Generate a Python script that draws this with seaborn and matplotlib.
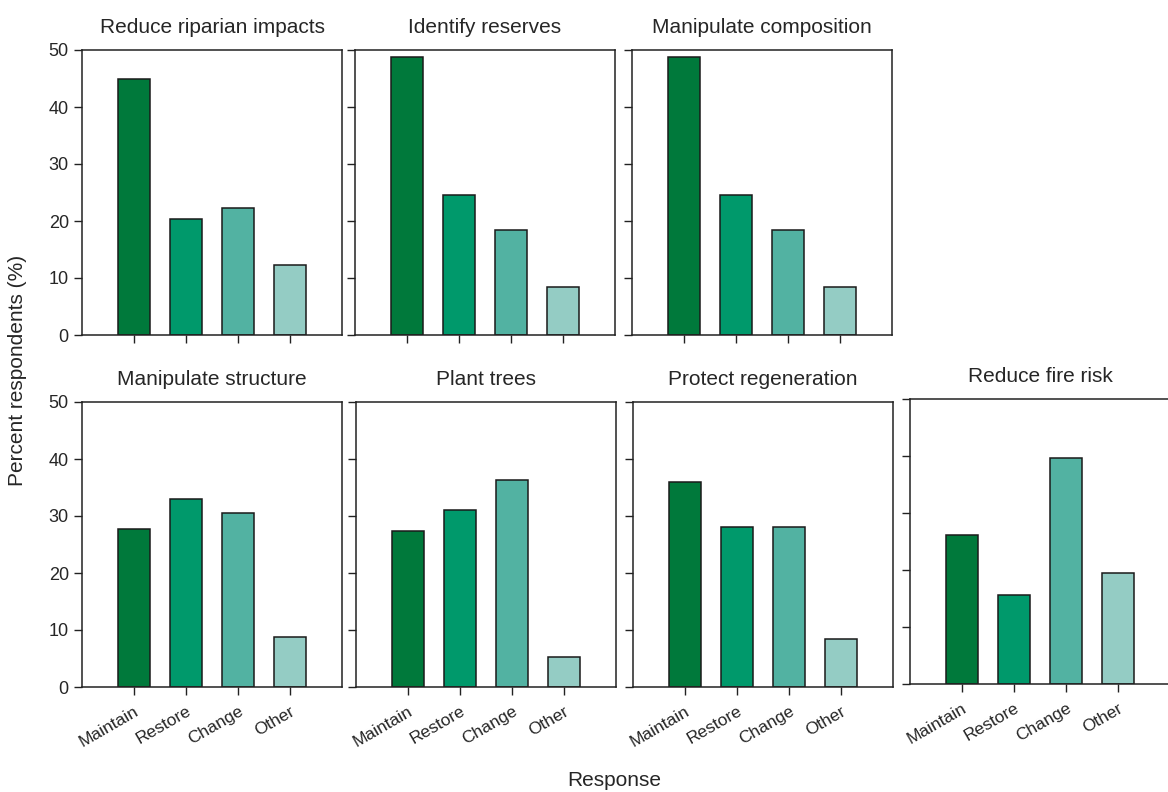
import matplotlib
matplotlib.use("Agg")
import matplotlib.pyplot as plt
import seaborn as sns
import pandas as pd

sns.set_style("white")
plt.rcParams['font.family'] = ['Liberation Sans', 'DejaVu Sans']

responses = ["Maintain", "Restore", "Change", "Other"]
titles = ["Reduce riparian impacts", "Identify reserves", "Manipulate composition",
          "Manipulate structure", "Plant trees", "Protect regeneration", "Reduce fire risk"]
riparian = [45.0, 20.3, 22.2, 12.2]
reserves = [48.7, 24.6, 18.5, 8.5]
composition = [48.7, 24.6, 18.5, 8.5]
structure = [27.8, 32.9, 30.6, 8.8]
plant = [27.4, 31.1, 36.4, 5.3]
protect = [35.9, 28.0, 28.0, 8.4]
fire = [26.1, 15.6, 39.6, 19.4]
yticks = [0, 10, 20, 30, 40, 50]
colors = ["#00793B", "#00996B", "#52B2A2", "#94CCC4"]

series = [riparian, reserves, composition, structure, plant, protect, fire]

fig = plt.figure(figsize=(11.68, 7.92), dpi=100)
W, H = 1168, 792
aw, ah = 260, 285
positions = [
    (82, 50), (355, 50), (632, 50),
    (82, 402), (356, 402), (633, 402), (910, 399),
]
palette = dict(zip(responses, colors))
for i, (vals, title, (px, py)) in enumerate(zip(series, titles, positions)):
    ax = fig.add_axes([px / W, 1 - (py + ah) / H, aw / W, ah / H])
    df = pd.DataFrame({"response": responses, "value": vals})
    sns.barplot(data=df, x="response", y="value", hue="response", palette=palette,
                order=responses, hue_order=responses, width=0.61, edgecolor="#1a1a1a",
                linewidth=1.1, legend=False, ax=ax, saturation=1)
    ax.set_xlim(-1, 4)
    ax.set_ylim(0, 50)
    ax.set_yticks(yticks)
    ax.set_xlabel("")
    ax.set_ylabel("")
    ax.set_title(title, fontsize=15, pad=12)
    for s in ax.spines.values():
        s.set_visible(True)
        s.set_color("#222222")
        s.set_linewidth(1.1)
    ax.tick_params(axis="both", direction="out", length=6, width=1.0, color="#222222",
                   left=True, bottom=True, labelsize=13)
    if i in (0, 3):
        ax.set_yticklabels([str(t) for t in yticks])
    else:
        ax.set_yticklabels([])
    if i < 3:
        ax.set_xticklabels([])
    else:
        ax.set_xticks(range(4))
        ax.set_xticklabels(responses, rotation=30, ha="right", rotation_mode="anchor",
                           fontsize=12.5)
        ax.tick_params(axis="x", pad=6)

fig.text(18 / W, 1 - 370 / H, "Percent respondents (%)", rotation=90, fontsize=15,
         ha="center", va="center")
fig.text(614 / W, 1 - 781 / H, "Response", fontsize=15, ha="center", va="center")

fig.savefig("out.png", dpi=100)
